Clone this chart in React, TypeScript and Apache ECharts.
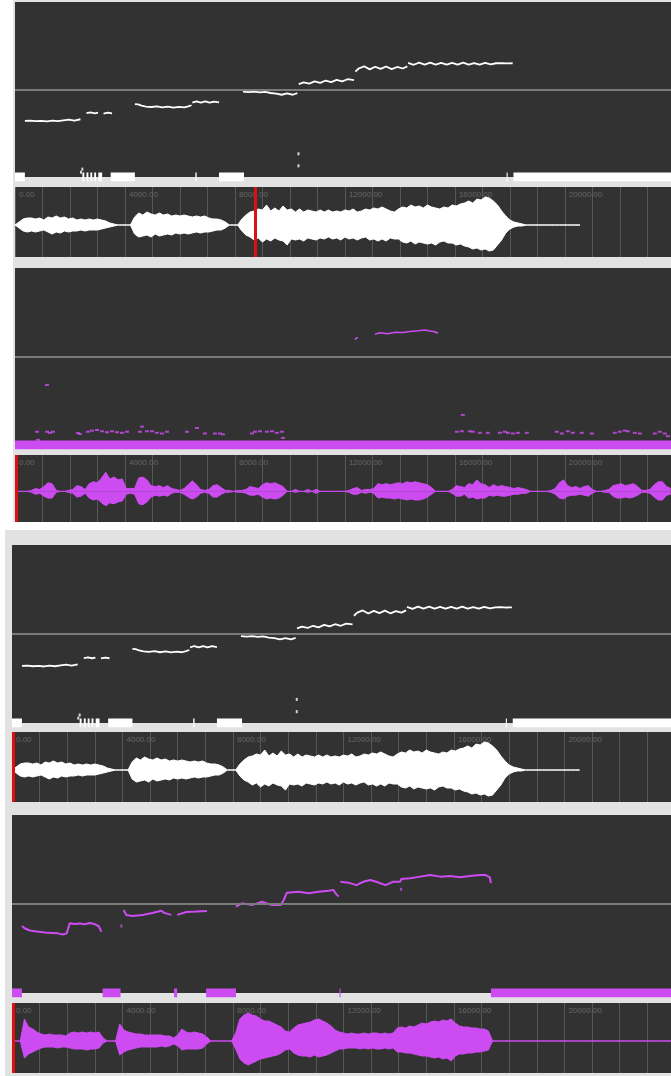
import React, { useEffect, useRef } from "react";
import * as echarts from "echarts";

// ---------- axes ----------
const X_MAX = 23860; // ms visible
const TICK_LABEL_VALUES = [0, 4000, 8000, 12000, 16000, 20000];
const PITCH_MIN = 0;
const PITCH_MAX = 800; // Hz
const PITCH_MIDLINE = 400;
const WAVE_MIN = -32;
const WAVE_MAX = 38;
const WAVE_STEP = 150; // ms between envelope samples

// ---------- white (sung scale) pitch, Hz ----------
const whitePitchSegments = [
  [[360, 257], [560, 258], [760, 255], [960, 257], [1160, 254], [1360, 258], [1560, 255], [1760, 259], [1960, 262], [2160, 258], [2380, 264]],
  [[2600, 292], [2750, 295], [2900, 291], [3020, 294]],
  [[3220, 290], [3380, 294], [3530, 291]],
  [[4360, 333], [4480, 332], [4600, 326], [4760, 322], [4960, 320], [5160, 323], [5360, 318], [5560, 322], [5760, 317], [5960, 321], [6160, 318], [6300, 323], [6420, 328]],
  [[6450, 340], [6600, 346], [6760, 340], [6920, 346], [7080, 340], [7240, 345], [7420, 341]],
  [[8290, 390], [8500, 388], [8700, 390], [8900, 387], [9100, 389], [9300, 384], [9500, 381], [9700, 376], [9900, 382], [10100, 376], [10270, 383]],
  [[10320, 425], [10500, 433], [10700, 427], [10900, 437], [11100, 430], [11300, 441], [11500, 434], [11700, 444], [11900, 437], [12100, 447], [12330, 443]],
  [[12380, 482], [12500, 496], [12700, 506], [12900, 492], [13100, 504], [13300, 494], [13500, 505], [13700, 493], [13900, 503], [14100, 496], [14270, 506]],
  [[14300, 522], [14500, 513], [14700, 523], [14900, 514], [15100, 523], [15300, 514], [15500, 522], [15700, 514], [15900, 522], [16100, 514], [16300, 523], [16500, 514], [16700, 521], [16900, 514], [17100, 522], [17300, 515], [17500, 520], [17700, 521], [17900, 519], [18100, 520]],
];
const whiteUnvoiced = [
  [0, 360], [2450, 2520], [2600, 2670], [2740, 2810], [2880, 2950], [3030, 3170],
  [3480, 4360], [6560, 6610], [7420, 8330], [17880, 17920], [18130, 23860],
];
const whiteDots = [[2400, 22], [2450, 36], [10310, 51], [10310, 106]];

// ---------- purple, screenshot 1 (speech) pitch ----------
const purple1Segments = [
  [[12360, 478], [12470, 486]],
  [[13090, 500], [13270, 507], [13560, 503], [13820, 510], [14110, 508], [14360, 513], [14650, 516], [14910, 520], [15090, 515], [15270, 512], [15380, 505]],
];
const purple1Unvoiced = [[0, 23860]];
const purple1Noise = [
  [800, 60], [836, 23], [1164, 60], [1164, 271], [1273, 55], [1382, 60], [2291, 54], [2363, 50],
  [2654, 60], [2800, 65], [2982, 68], [3163, 62], [3345, 58], [3527, 62], [3709, 58], [3891, 55], [4072, 60],
  [4545, 60], [4618, 83], [4800, 62], [4981, 62], [5163, 55], [5345, 52], [5527, 60],
  [6254, 60], [6618, 77], [6908, 52], [7272, 52], [7454, 52], [7563, 48],
  [8617, 52], [8726, 60], [8908, 62], [9163, 60], [9345, 62], [9526, 55], [9708, 60], [9745, 32],
  [16071, 60], [16253, 62], [16289, 136], [16544, 62], [16653, 60], [16907, 55], [17198, 55],
  [17635, 55], [17816, 60], [17925, 55], [18107, 52], [18289, 55], [18616, 55],
  [19707, 60], [19889, 52], [20107, 62], [20289, 55], [20616, 55], [20980, 52],
  [21816, 55], [21998, 60], [22180, 65], [22289, 62], [22543, 55], [22725, 52],
  [23270, 52], [23452, 60], [23634, 52], [23743, 40],
];

// ---------- purple, screenshot 2 (sung scale) pitch ----------
const purple2Segments = [
  [[360, 301], [470, 290], [650, 281], [900, 276], [1190, 272], [1440, 270], [1660, 268], [1840, 263], [1980, 268], [2090, 313], [2270, 310], [2450, 312], [2630, 309], [2810, 315], [2990, 310], [3140, 300], [3240, 275]],
  [[4040, 373], [4140, 351], [4360, 346], [4720, 351], [5080, 360], [5260, 365], [5410, 370], [5510, 360], [5770, 351]],
  [[5980, 351], [6310, 364], [6670, 366], [7060, 369]],
  [[8110, 388], [8330, 403], [8690, 395], [9050, 410], [9410, 395], [9730, 395], [9840, 418], [9950, 451], [10380, 455], [10740, 448], [11100, 455], [11460, 460], [11640, 463], [11710, 449], [11820, 433]],
  [[11890, 500], [12180, 496], [12470, 485], [12720, 500], [12970, 508], [13190, 500], [13520, 485], [13800, 500], [14060, 500], [14090, 512], [14420, 516], [14780, 523], [15140, 530], [15500, 523], [15860, 526], [16220, 520], [16580, 526], [16940, 530], [17150, 530], [17300, 520], [17340, 494]],
];
const purple2Unvoiced = [[0, 360], [3280, 3930], [5870, 5980], [7030, 8110], [11860, 11900], [17340, 23860]];
const purple2Dots = [[3960, 301], [14090, 466]];

// ---------- waveform envelopes (upper / lower amplitude) ----------
const whiteWaveTop = [
  0, 3, 6, 7, 7, 6, 7, 5, 8, 7, 9, 7, 8, 6, 7, 5, 6, 5, 6, 5,
  6, 5, 4, 2, 1, 0, 0, 0, 0, 8, 12, 10, 13, 11, 10, 12, 10, 11, 9, 10,
  9, 10, 9, 8, 9, 8, 9, 7, 6, 6, 5, 3, 0, 0, 0, 6, 10, 13, 14, 16,
  15, 20, 14, 17, 14, 19, 15, 16, 13, 16, 13, 15, 14, 13, 15, 13, 15, 13, 14, 13,
  15, 14, 16, 13, 14, 16, 15, 17, 16, 18, 16, 14, 13, 16, 18, 17, 20, 18, 19, 17,
  20, 18, 17, 16, 18, 17, 20, 19, 21, 22, 24, 22, 26, 25, 28, 27, 24, 20, 14, 9,
  5, 3, 2, 1, 0, 0, 0, 0, 0, 0, 0, 0, 0, 0, 0, 0, 0, 0,
];
const whiteWaveBottom = [
  0, 3, 6, 7, 6, 7, 6, 5, 7, 9, 7, 8, 6, 7, 6, 6, 5, 6, 5, 5,
  5, 4, 3, 2, 1, 0, 0, 0, 0, 9, 12, 11, 10, 12, 9, 11, 10, 9, 10, 8,
  9, 8, 9, 8, 7, 8, 7, 7, 6, 5, 5, 3, 0, 0, 0, 6, 10, 12, 15, 13,
  17, 14, 16, 13, 15, 16, 20, 14, 15, 14, 16, 13, 14, 15, 13, 14, 12, 14, 13, 15,
  12, 14, 13, 15, 13, 12, 15, 14, 16, 14, 16, 13, 14, 14, 17, 18, 16, 19, 17, 18,
  19, 18, 20, 17, 16, 18, 18, 20, 19, 21, 22, 24, 23, 25, 24, 26, 25, 20, 15, 8,
  4, 2, 1, 1, 0, 0, 0, 0, 0, 0, 0, 0, 0, 0, 0, 0, 0, 0,
];
const purple1WaveTop = [
  0, 0, 0, 0, 1, 3, 2, 5, 9, 8, 1, 0, 0, 1, 2, 6, 5, 2, 8, 10,
  9, 14, 20, 13, 15, 12, 13, 3, 3, 3, 14, 15, 12, 6, 5, 6, 4, 6, 3, 2,
  1, 3, 7, 11, 7, 2, 1, 2, 6, 7, 4, 1, 1, 0, 1, 1, 2, 5, 4, 3,
  7, 9, 8, 9, 7, 5, 0, 0, 2, 0, 0, 2, 0, 2, 0, 0, 0, 0, 0, 0,
  0, 1, 3, 4, 1, 2, 2, 3, 8, 7, 8, 7, 8, 9, 8, 10, 9, 10, 9, 8,
  7, 4, 0, 0, 0, 0, 2, 6, 5, 4, 8, 7, 12, 8, 7, 4, 7, 5, 6, 5,
  4, 3, 4, 3, 2, 0, 0, 0, 0, 0, 1, 3, 9, 12, 6, 4, 5, 3, 5, 6,
  2, 0, 0, 1, 2, 6, 7, 8, 6, 7, 8, 5, 1, 1, 2, 7, 10, 10, 5, 3,
];
const purple1WaveBottom = [
  0, 0, 0, 0, 1, 3, 2, 5, 7, 7, 1, 0, 0, 1, 2, 6, 5, 2, 7, 9,
  8, 12, 15, 12, 13, 11, 10, 3, 2, 3, 13, 14, 11, 6, 4, 5, 4, 5, 2, 1,
  1, 3, 6, 8, 6, 2, 1, 2, 6, 6, 3, 1, 1, 0, 1, 1, 2, 4, 4, 3,
  6, 8, 7, 8, 7, 4, 0, 0, 1, 0, 0, 1, 0, 2, 0, 0, 0, 0, 0, 0,
  0, 1, 3, 3, 1, 2, 1, 2, 7, 6, 7, 7, 8, 7, 8, 9, 8, 9, 9, 8,
  6, 3, 0, 0, 0, 0, 2, 5, 5, 3, 7, 6, 8, 7, 7, 4, 5, 4, 5, 5,
  4, 3, 3, 2, 2, 0, 0, 0, 0, 0, 1, 3, 7, 8, 5, 4, 4, 3, 4, 5,
  2, 0, 0, 1, 1, 5, 7, 7, 6, 7, 6, 4, 1, 1, 2, 6, 9, 9, 4, 3,
];
const purple2WaveTop = [
  0, 0, 0, 22, 14, 12, 9, 7, 6, 7, 6, 6, 6, 5, 8, 9, 8, 9, 8, 9,
  8, 9, 3, 0, 0, 0, 17, 11, 9, 8, 7, 7, 6, 6, 6, 6, 6, 5, 5, 3,
  6, 12, 9, 8, 9, 8, 7, 4, 0, 0, 0, 0, 0, 0, 8, 22, 26, 28, 26, 25,
  22, 20, 20, 18, 16, 14, 10, 9, 13, 16, 17, 18, 19, 21, 22, 20, 18, 15, 11, 9,
  8, 7, 8, 7, 7, 8, 7, 8, 8, 7, 8, 7, 8, 13, 14, 13, 15, 14, 16, 18,
  17, 19, 20, 19, 21, 20, 22, 18, 15, 14, 14, 13, 13, 12, 12, 10, 0, 0, 0, 0,
  0, 0, 0, 0, 0, 0, 0, 0, 0, 0, 0, 0, 0, 0, 0, 0, 0, 0, 0, 0,
  0, 0, 0, 0, 0, 0, 0, 0, 0, 0, 0, 0, 0, 0, 0, 0, 0, 0, 0, 0,
];
const purple2WaveBottom = [
  0, 0, 0, 17, 13, 11, 9, 7, 6, 6, 6, 7, 6, 6, 7, 8, 8, 8, 9, 8,
  8, 7, 2, 0, 0, 0, 14, 11, 9, 8, 7, 6, 6, 6, 6, 6, 5, 6, 5, 3,
  5, 9, 8, 8, 8, 8, 7, 3, 0, 0, 0, 0, 0, 0, 8, 18, 22, 24, 22, 20,
  18, 17, 16, 15, 14, 12, 9, 8, 12, 14, 15, 15, 16, 14, 16, 15, 14, 12, 10, 8,
  8, 7, 7, 7, 8, 7, 8, 7, 8, 8, 7, 8, 7, 11, 11, 12, 12, 13, 14, 15,
  15, 16, 17, 16, 18, 17, 20, 15, 13, 13, 12, 12, 11, 11, 10, 9, 0, 0, 0, 0,
  0, 0, 0, 0, 0, 0, 0, 0, 0, 0, 0, 0, 0, 0, 0, 0, 0, 0, 0, 0,
  0, 0, 0, 0, 0, 0, 0, 0, 0, 0, 0, 0, 0, 0, 0, 0, 0, 0, 0, 0,
];

// playback cursor position per waveform panel (ms)
const cursorTimes = [8730, 60, 40, 40];

// ---------- styling ----------
const WHITE = "#ffffff";
const PURPLE = "#cd4cf2";
const PANEL_BG = "#323232";
const FRAME_BG = "#e2e2e2";
const MIDLINE = "#7a7a7a";
const GRIDLINE = "#575757";
const CURSOR = "#dc1010";

// layout (left, top, width, height) of the 8 panels
const panels = [
  { left: 15, top: 2, width: 656, height: 175 },
  { left: 15, top: 187, width: 656, height: 70 },
  { left: 15, top: 268, width: 656, height: 177 },
  { left: 15, top: 455, width: 656, height: 67 },
  { left: 12, top: 545, width: 659, height: 178 },
  { left: 12, top: 732, width: 659, height: 70 },
  { left: 12, top: 815, width: 659, height: 178 },
  { left: 12, top: 1003, width: 659, height: 70 },
];

function joinSegments(segs: number[][][]) {
  const out: any[] = [];
  segs.forEach((s, k) => {
    if (k > 0) out.push([s[0][0], "-"]);
    s.forEach((p) => out.push(p));
  });
  return out;
}
function rangesToLine(ranges: number[][]) {
  const out: any[] = [];
  ranges.forEach((r, k) => {
    if (k > 0) out.push([r[0], "-"]);
    out.push([r[0], 0]);
    out.push([r[1], 0]);
  });
  return out;
}
function envelope(vals: number[], sign: number) {
  return vals.map((v, i) => [i * WAVE_STEP, sign * v]);
}

export default function App() {
  const ref = useRef<HTMLDivElement>(null);

  useEffect(() => {
    if (!ref.current) return;
    const chart = echarts.init(ref.current, null, { renderer: "svg" });

    const isWave = (i: number) => i % 2 === 1;
    const grid = panels.map((p) => ({
      ...p,
      show: true,
      backgroundColor: PANEL_BG,
      borderWidth: 0,
      containLabel: false,
    }));
    const xAxis = panels.map((_, i) => ({
      type: "value",
      gridIndex: i,
      min: 0,
      max: X_MAX,
      interval: 1000,
      position: "top",
      show: isWave(i),
      axisLine: { show: false },
      axisTick: { show: false },
      splitLine: { show: isWave(i), lineStyle: { color: GRIDLINE, width: 1 } },
      axisLabel: {
        show: isWave(i),
        inside: true,
        margin: 3,
        align: "left",
        verticalAlign: "top",
        padding: [0, 0, 0, 4],
        color: "#666666",
        fontSize: 8,
        fontFamily: "Liberation Sans, Arial, sans-serif",
        showMinLabel: true,
        showMaxLabel: false,
        formatter: (v: number) => (TICK_LABEL_VALUES.indexOf(v) >= 0 ? v.toFixed(2) : ""),
      },
    }));
    const yAxis = panels.map((_, i) => ({
      type: "value",
      gridIndex: i,
      min: isWave(i) ? WAVE_MIN : PITCH_MIN,
      max: isWave(i) ? WAVE_MAX : PITCH_MAX,
      show: false,
      splitLine: { show: false },
    }));

    const series: any[] = [];
    const pitchPanel = (gi: number, segs: number[][][], unvoiced: number[][], dots: number[][], color: string, width: number, dotSize: any) => {
      series.push({
        type: "line",
        xAxisIndex: gi,
        yAxisIndex: gi,
        data: rangesToLine(unvoiced),
        showSymbol: false,
        symbol: "none",
        lineStyle: { color, width: 9, cap: "butt" },
        clip: true,
        markLine: {
          silent: true,
          symbol: ["none", "none"],
          label: { show: false },
          lineStyle: { color: MIDLINE, width: 2, type: "solid" },
          data: [{ yAxis: PITCH_MIDLINE }],
        },
      });
      series.push({
        type: "line",
        xAxisIndex: gi,
        yAxisIndex: gi,
        data: joinSegments(segs),
        showSymbol: false,
        symbol: "none",
        connectNulls: false,
        lineStyle: { color, width },
      });
      series.push({
        type: "scatter",
        xAxisIndex: gi,
        yAxisIndex: gi,
        data: dots,
        symbol: "rect",
        symbolSize: dotSize,
        itemStyle: { color },
      });
    };
    const wavePanel = (gi: number, top: number[], bottom: number[], color: string, cursor: number) => {
      series.push({
        type: "line",
        xAxisIndex: gi,
        yAxisIndex: gi,
        data: envelope(top, 1),
        showSymbol: false,
        symbol: "none",
        lineStyle: { color, width: 1 },
        areaStyle: { color, opacity: 1 },
      });
      series.push({
        type: "line",
        xAxisIndex: gi,
        yAxisIndex: gi,
        data: envelope(bottom, -1),
        showSymbol: false,
        symbol: "none",
        lineStyle: { color, width: 1 },
        areaStyle: { color, opacity: 1 },
        markLine: {
          silent: true,
          symbol: ["none", "none"],
          label: { show: false },
          lineStyle: { color: CURSOR, width: 3, type: "solid" },
          data: [{ xAxis: cursor }],
        },
      });
    };

    pitchPanel(0, whitePitchSegments, whiteUnvoiced, whiteDots, WHITE, 1.8, [2, 3]);
    wavePanel(1, whiteWaveTop, whiteWaveBottom, WHITE, cursorTimes[0]);
    pitchPanel(2, purple1Segments, purple1Unvoiced, purple1Noise, PURPLE, 1.5, [4, 2]);
    wavePanel(3, purple1WaveTop, purple1WaveBottom, PURPLE, cursorTimes[1]);
    pitchPanel(4, whitePitchSegments, whiteUnvoiced, whiteDots, WHITE, 1.8, [2, 3]);
    wavePanel(5, whiteWaveTop, whiteWaveBottom, WHITE, cursorTimes[2]);
    pitchPanel(6, purple2Segments, purple2Unvoiced, purple2Dots, PURPLE, 2, [2, 3]);
    wavePanel(7, purple2WaveTop, purple2WaveBottom, PURPLE, cursorTimes[3]);

    chart.setOption({
      animation: false,
      backgroundColor: "transparent",
      grid,
      xAxis,
      yAxis,
      series,
    });
    return () => chart.dispose();
  }, []);

  return (
    <div style={{ position: "absolute", left: 0, top: 0, width: 671, height: 1076, background: "#ffffff", overflow: "hidden" }}>
      <div style={{ position: "absolute", left: 13, top: 0, width: 658, height: 522, background: FRAME_BG }} />
      <div style={{ position: "absolute", left: 5, top: 530, width: 666, height: 546, background: FRAME_BG }} />
      <div ref={ref} style={{ position: "absolute", left: 0, top: 0, width: 671, height: 1076 }} />
    </div>
  );
}
